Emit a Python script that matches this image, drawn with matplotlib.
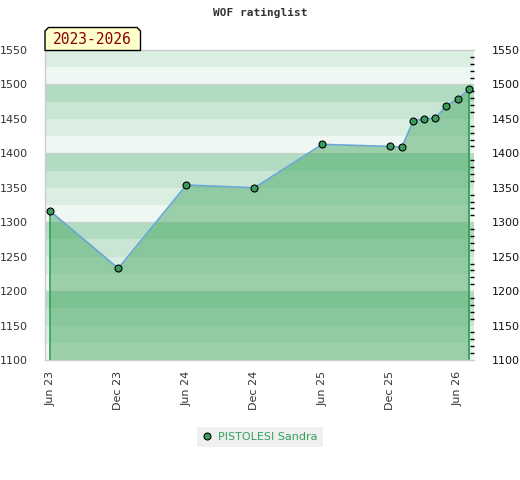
import matplotlib
matplotlib.use("Agg")
import matplotlib.pyplot as plt
import matplotlib.dates as mdates
from matplotlib.patches import Polygon
from matplotlib.lines import Line2D
import numpy as np

# ---- data ----
dates = ["2023-06-01", "2023-12-01", "2024-06-01", "2024-12-01", "2025-06-01",
         "2025-12-01", "2026-01-01", "2026-02-01", "2026-03-01", "2026-04-01",
         "2026-05-01", "2026-06-01", "2026-07-01"]
ratings = [1316, 1233, 1354, 1350, 1413, 1410, 1409, 1447, 1450, 1451, 1469, 1479, 1493]
player = "PISTOLESI Sandra"
title = "WOF ratinglist"
period_label = "2023-2026"
xtick_dates = ["2023-06-01", "2023-12-01", "2024-06-01", "2024-12-01",
               "2025-06-01", "2025-12-01", "2026-06-01"]
xtick_labels = ["Jun 23", "Dec 23", "Jun 24", "Dec 24", "Jun 25", "Dec 25", "Jun 26"]
yticks = [1100, 1150, 1200, 1250, 1300, 1350, 1400, 1450, 1500, 1550]
band_colors = ["#eef7f1", "#daeee2", "#c8e6d3", "#b2dcc1"]

W, H = 520, 480
fig = plt.figure(figsize=(W / 100, H / 100), dpi=100)
fig.patch.set_facecolor("white")
ax = fig.add_axes([45 / W, 1 - 360 / H, 429 / W, 310 / H])

x = mdates.datestr2num(dates)
y = np.array(ratings)
ymin, ymax = 1100, 1550

# background bands
for b in range(ymin, ymax, 25):
    ax.axhspan(b, b + 25, color=band_colors[((b - 1100) // 25) % 4], lw=0, zorder=0)
for g in [1200, 1300, 1400, 1500]:
    ax.axhline(g, color="#c5d1c9", lw=0.9, zorder=0.5)

# fill
ax.fill_between(x, y, ymin, color="#48a965", alpha=0.5, lw=0, zorder=1)
ax.vlines([x[0], x[-1]], ymin, [y[0], y[-1]], color="#2e9e50", lw=1.2, zorder=2)
ax.plot(x, y, color="#6aa6d6", lw=1.2, zorder=3)
ax.plot(x, y, ls="none", marker="o", ms=5, mfc="#3a9d5d", mec="black", mew=0.8, zorder=4)

ax.set_xlim(mdates.datestr2num("2023-05-18"), mdates.datestr2num("2026-07-14"))
ax.set_ylim(ymin, ymax)

ax.set_xticks(mdates.datestr2num(xtick_dates))
ax.set_xticklabels(xtick_labels, rotation=90, fontsize=8, color="#333333")
ax.tick_params(axis="x", length=0, pad=8)

ax.set_yticks(yticks)
ax.set_yticklabels([str(v) for v in yticks], fontsize=8, color="#333333")
ax.tick_params(axis="y", which="major", left=False, right=False,
               labelleft=True, labelright=True, pad=9)
ax.set_yticks(np.arange(1100, 1551, 10), minor=True)
ax.tick_params(axis="y", which="minor", left=False, right=True, direction="in",
               length=2.6, width=1.0, color="black")
for t in ax.yaxis.get_major_ticks():
    t.label2.set_color("#111111")
ax.set_zorder(1)

for s in ["left", "bottom", "top"]:
    ax.spines[s].set_color("#cccccc")
    ax.spines[s].set_linewidth(1)
ax.spines["right"].set_visible(False)

# title
fig.text(0.5, 1 - 13 / H, title, ha="center", va="center",
         family="DejaVu Sans Mono", fontweight="bold", fontsize=8, color="#333333")

# period label box with chamfered top corners
x0, x1, yt, yb, c = 45, 140.5, 27.5, 50.5, 3.5
pts = [(x0, yb), (x0, yt + c), (x0 + c, yt), (x1 - c, yt), (x1, yt + c), (x1, yb)]
poly = Polygon([(px / W, 1 - py / H) for px, py in pts], closed=True,
               transform=fig.transFigure, facecolor="#ffffcc", edgecolor="black",
               lw=1, zorder=10)
fig.patches.append(poly)
fig.text((x0 + x1) / 2 / W, 1 - 40 / H, period_label, ha="center", va="center",
         family="DejaVu Sans Mono", fontsize=10.5, color="#8b0000", zorder=11)

# legend
handle = Line2D([], [], ls="none", marker="o", ms=5, mfc="#3a9d5d", mec="black", mew=0.8)
leg = fig.legend([handle], [player], loc="center", bbox_to_anchor=(260 / W, 1 - 436.5 / H),
                 fancybox=False, frameon=True, facecolor="#efefef", edgecolor="none",
                 framealpha=1, fontsize=8, handlelength=0.8, handletextpad=0.6,
                 borderpad=0.45, labelcolor="#33a35a")

fig.savefig("out.png", dpi=100, facecolor="white")
